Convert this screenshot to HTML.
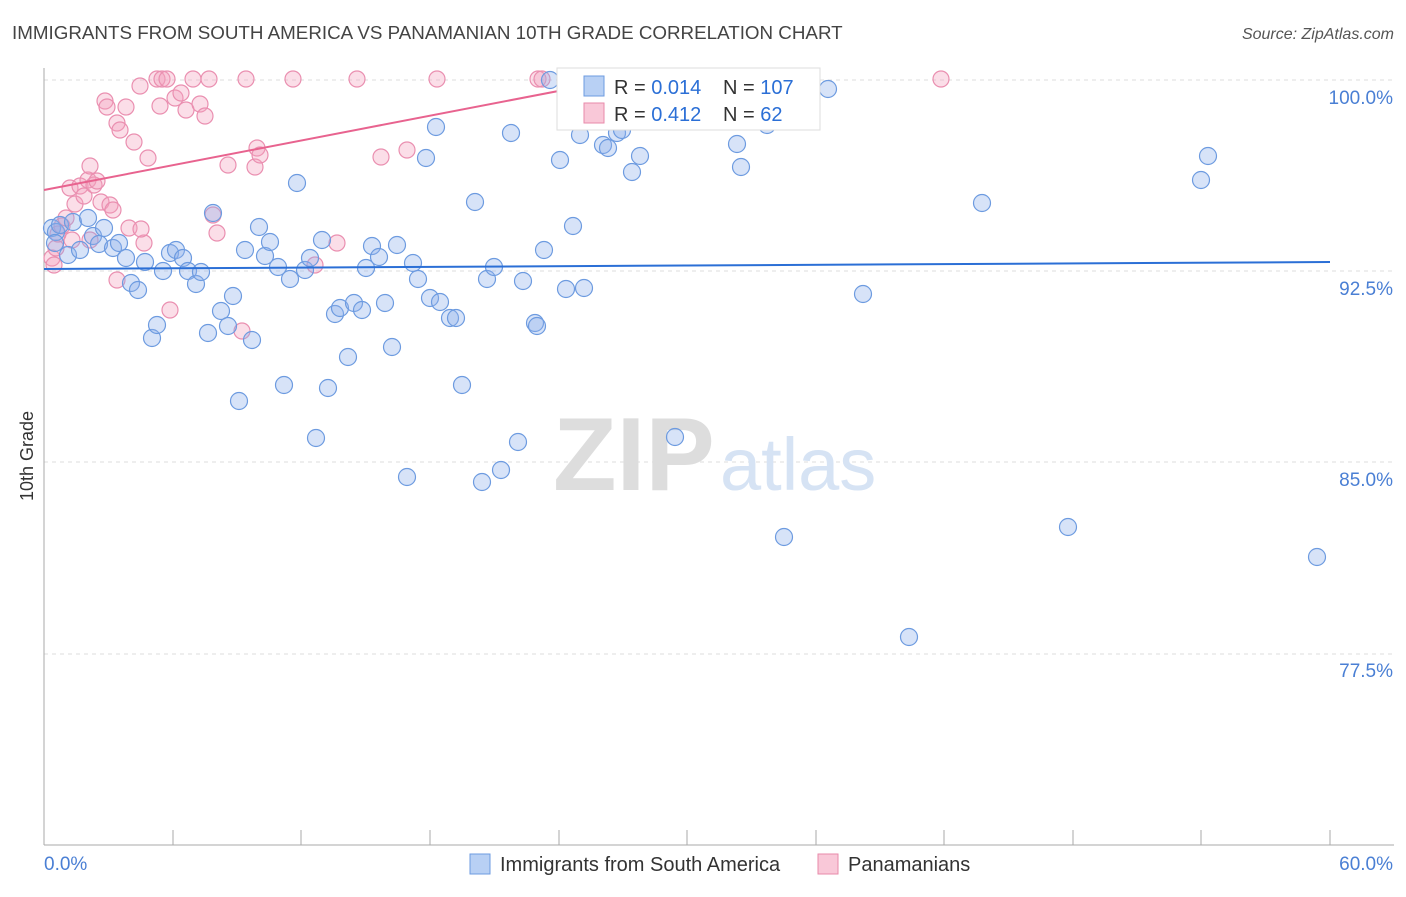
<!DOCTYPE html>
<html><head><meta charset="utf-8"><style>
body{margin:0;background:#fff;font-family:"Liberation Sans",sans-serif;}
svg text{font-family:"Liberation Sans",sans-serif;}
</style></head><body>
<svg width="1406" height="892" xmlns="http://www.w3.org/2000/svg">
<text x="12" y="39" font-size="18.8" fill="#444">IMMIGRANTS FROM SOUTH AMERICA VS PANAMANIAN 10TH GRADE CORRELATION CHART</text>
<text x="1394" y="39" font-size="16" fill="#555" text-anchor="end" font-style="italic">Source: ZipAtlas.com</text>
<g stroke="#ddd" stroke-dasharray="4,4" stroke-width="1">
<line x1="44" y1="80" x2="1394" y2="80"/><line x1="44" y1="271" x2="1394" y2="271"/>
<line x1="44" y1="462" x2="1394" y2="462"/><line x1="44" y1="654" x2="1394" y2="654"/>
</g>
<line x1="44" y1="68" x2="44" y2="845" stroke="#aaa"/>
<line x1="44" y1="845" x2="1394" y2="845" stroke="#aaa"/>
<g stroke="#aaa">
<line x1="173" y1="830" x2="173" y2="845"/><line x1="301" y1="830" x2="301" y2="845"/><line x1="430" y1="830" x2="430" y2="845"/><line x1="559" y1="830" x2="559" y2="845"/><line x1="687" y1="830" x2="687" y2="845"/><line x1="816" y1="830" x2="816" y2="845"/><line x1="944" y1="830" x2="944" y2="845"/><line x1="1073" y1="830" x2="1073" y2="845"/><line x1="1201" y1="830" x2="1201" y2="845"/><line x1="1330" y1="830" x2="1330" y2="845"/>
</g>
<g font-size="19" fill="#4a7fd4" text-anchor="end">
<text x="1393" y="104">100.0%</text><text x="1393" y="295">92.5%</text><text x="1393" y="486">85.0%</text><text x="1393" y="677">77.5%</text>
</g>
<text x="44" y="870" font-size="19" fill="#4a7fd4">0.0%</text>
<text x="1393" y="870" font-size="19" fill="#4a7fd4" text-anchor="end">60.0%</text>
<text transform="translate(33,456) rotate(-90)" font-size="18" fill="#333" text-anchor="middle">10th Grade</text>
<text x="553" y="490" font-size="104" fill="#ddd" font-family="Liberation Serif,serif" font-weight="bold">ZIP</text>
<text x="720" y="490" font-size="74" fill="#d6e3f4">atlas</text>
<g id="pts"></g>
<line x1="44" y1="269" x2="1330" y2="262" stroke="#2b6fd6" stroke-width="2"/>
<line x1="44" y1="190" x2="600" y2="83" stroke="#e8638f" stroke-width="2"/>
<rect x="557" y="68" width="263" height="62" fill="#fff" stroke="#ddd"/>
<rect x="584" y="76" width="20" height="20" fill="#b8d0f4" stroke="#6d9be0"/>
<rect x="584" y="103" width="20" height="20" fill="#f9c8d8" stroke="#e88aaa"/>
<g font-size="20"><text x="614" y="94" fill="#333">R = <tspan fill="#2b6fd6">0.014</tspan></text>
<text x="723" y="94" fill="#333">N = <tspan fill="#2b6fd6">107</tspan></text>
<text x="614" y="121" fill="#333">R = <tspan fill="#2b6fd6">0.412</tspan></text>
<text x="723" y="121" fill="#333">N = <tspan fill="#2b6fd6"> 62</tspan></text></g>
<rect x="470" y="854" width="20" height="20" fill="#b8d0f4" stroke="#6d9be0"/>
<text x="500" y="871" font-size="20" fill="#333">Immigrants from South America</text>
<rect x="818" y="854" width="20" height="20" fill="#f9c8d8" stroke="#e88aaa"/>
<text x="848" y="871" font-size="20" fill="#333">Panamanians</text>
</svg>
<script>
var B=[[52,228],[56,232],[60,225],[55,243],[68,255],[73,222],[80,250],[88,218],[93,236],[99,244],[104,228],[113,248],[119,243],[126,258],[131,283],[138,290],[145,262],[152,338],[157,325],[163,271],[170,253],[176,250],[183,258],[188,271],[196,284],[201,272],[208,333],[213,213],[221,311],[228,326],[233,296],[239,401],[245,250],[252,340],[259,227],[265,256],[270,242],[278,267],[284,385],[290,279],[297,183],[305,270],[310,258],[316,438],[322,240],[328,388],[335,314],[340,308],[348,357],[354,303],[362,310],[366,268],[372,246],[379,257],[385,303],[392,347],[397,245],[407,477],[413,263],[418,279],[426,158],[430,298],[436,127],[440,302],[450,318],[456,318],[462,385],[475,202],[482,482],[487,279],[494,267],[501,470],[511,133],[518,442],[523,281],[535,323],[537,326],[544,250],[550,80],[560,160],[566,289],[573,226],[580,135],[584,288],[603,145],[608,148],[617,133],[622,130],[632,172],[640,156],[675,437],[737,144],[741,167],[767,125],[784,537],[802,80],[828,89],[863,294],[909,637],[982,203],[1068,527],[1201,180],[1208,156],[1317,557]];
var P=[[52,258],[54,265],[56,248],[58,234],[62,226],[66,218],[70,188],[75,204],[80,186],[84,196],[88,180],[90,166],[94,185],[97,181],[101,202],[105,101],[107,107],[110,205],[113,210],[117,123],[120,130],[126,107],[134,142],[140,86],[144,243],[148,158],[157,79],[160,106],[162,79],[167,79],[170,310],[175,98],[181,93],[186,110],[193,79],[200,104],[205,116],[209,79],[213,215],[217,233],[228,165],[242,331],[246,79],[255,167],[257,148],[260,155],[293,79],[315,265],[337,243],[357,79],[381,157],[407,150],[437,79],[538,79],[542,79],[941,79],[129,228],[141,229],[117,280],[72,240],[90,240]];
var g=document.getElementById('pts'),ns='http://www.w3.org/2000/svg';
function add(a,f,s,r){a.forEach(function(p){var c=document.createElementNS(ns,'circle');c.setAttribute('cx',p[0]);c.setAttribute('cy',p[1]);c.setAttribute('r',r);c.setAttribute('fill',f);c.setAttribute('stroke',s);c.setAttribute('stroke-width','1.2');g.appendChild(c);});}
add(P,'rgba(244,160,190,0.35)','#ea8fb0',8);
add(B,'rgba(140,175,235,0.35)','#6d9be0',8.5);
</script>
</body></html>
